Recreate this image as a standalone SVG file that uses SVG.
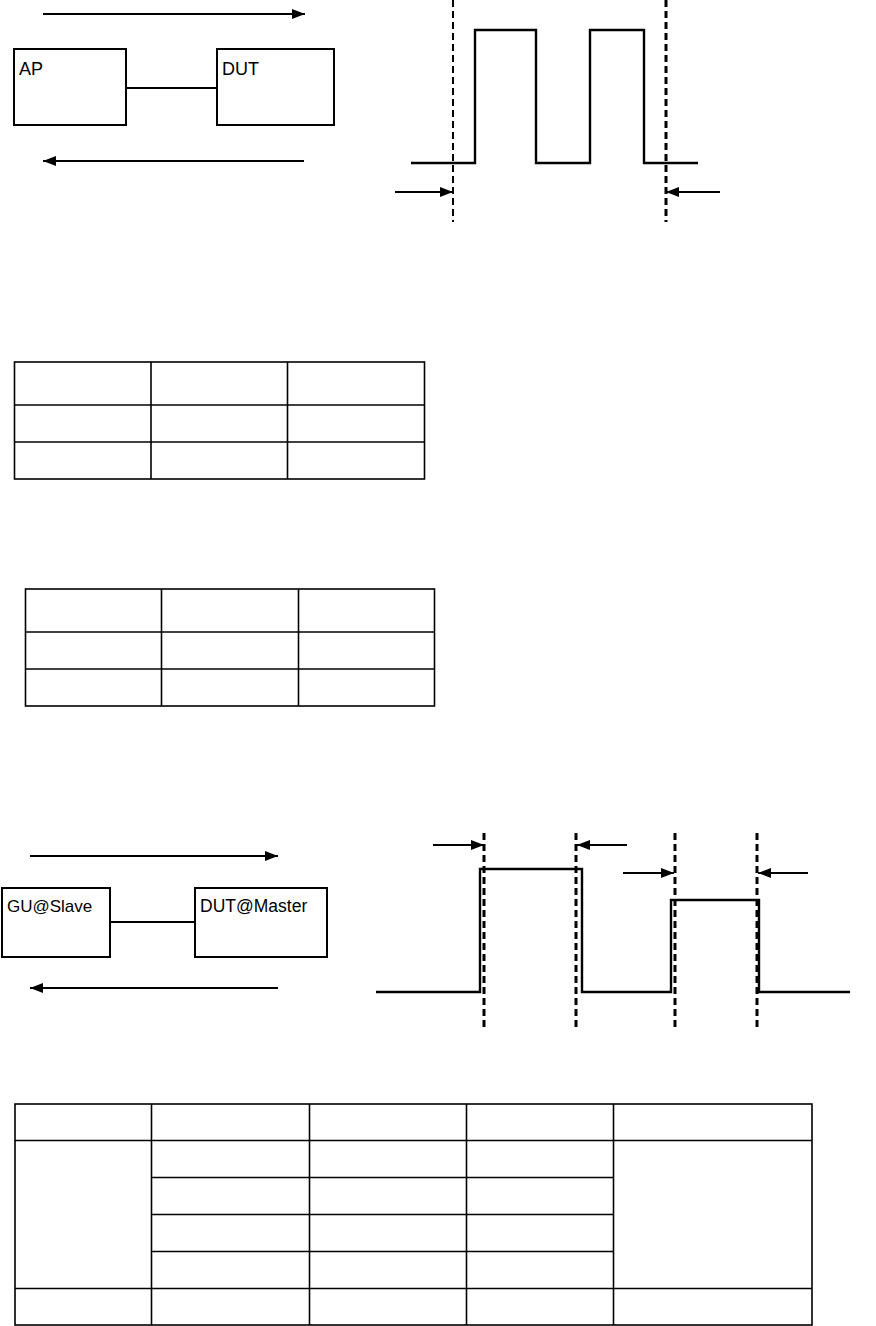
<svg xmlns="http://www.w3.org/2000/svg" width="876" height="1326" viewBox="0 0 876 1326">
<style>
.box{fill:#fff;stroke:#000;stroke-width:2}
.ln{stroke:#000;stroke-width:2;fill:none}
.wave{stroke:#000;stroke-width:2.4;fill:none;stroke-linejoin:miter}
.dash{stroke:#000;stroke-width:2;stroke-dasharray:7,4;fill:none}
.dashb{stroke:#000;stroke-width:3;stroke-dasharray:7,4;fill:none}
.tb{stroke:#000;stroke-width:1.6;fill:none}
.lbl{font-family:"Liberation Sans",Arial,sans-serif;fill:#000}
</style>
<defs>
<marker id="ah" viewBox="0 0 13 10" refX="13" refY="5" markerWidth="13" markerHeight="10" markerUnits="userSpaceOnUse" orient="auto">
<path d="M0,0 L13,5 L0,10 Z" fill="#000"/>
</marker>
</defs>
<rect width="876" height="1326" fill="#fff"/>

<g id="AP"><rect class="box" x="14" y="49" width="112" height="76"/><text class="lbl" x="19" y="75" font-size="18">AP</text></g>
<g id="DUT"><rect class="box" x="217" y="49" width="117" height="76"/><text class="lbl" x="222" y="75" font-size="18">DUT</text></g>
<g id="GU"><rect class="box" x="2" y="888" width="108" height="69"/><text class="lbl" x="7" y="912" font-size="17">GU@Slave</text></g>
<g id="DUTM"><rect class="box" x="195" y="888" width="132" height="69"/><text class="lbl" x="200" y="912" font-size="17.5">DUT@Master</text></g>

<g id="connectors">
<line class="ln" x1="126" y1="88" x2="217" y2="88"/>
<line class="ln" x1="43" y1="14" x2="305" y2="14" marker-end="url(#ah)"/>
<line class="ln" x1="304" y1="161" x2="43" y2="161" marker-end="url(#ah)"/>
<line class="ln" x1="110" y1="922" x2="195" y2="922"/>
<line class="ln" x1="30" y1="856" x2="278" y2="856" marker-end="url(#ah)"/>
<line class="ln" x1="278" y1="988" x2="30" y2="988" marker-end="url(#ah)"/>
</g>

<g id="wave1">
<polyline class="wave" points="411,163 475,163 475,30 536,30 536,163 590,163 590,30 644,30 644,163 698,163"/>
<line class="dash" x1="453" y1="0" x2="453" y2="222"/>
<line class="dashb" x1="666" y1="0" x2="666" y2="222"/>
<line class="ln" x1="395" y1="192" x2="453" y2="192" marker-end="url(#ah)"/>
<line class="ln" x1="720" y1="192" x2="666" y2="192" marker-end="url(#ah)"/>
</g>

<g id="wave2">
<polyline class="wave" points="376,992 480,992 480,869 582,869 582,992 671,992 671,900 759,900 759,992 850,992"/>
<line class="dashb" x1="484" y1="833" x2="484" y2="1031"/>
<line class="dashb" x1="576" y1="833" x2="576" y2="1031"/>
<line class="dashb" x1="675" y1="833" x2="675" y2="1031"/>
<line class="dashb" x1="757" y1="833" x2="757" y2="1031"/>
<line class="ln" x1="433" y1="845" x2="484" y2="845" marker-end="url(#ah)"/>
<line class="ln" x1="627" y1="845" x2="577" y2="845" marker-end="url(#ah)"/>
<line class="ln" x1="623" y1="873" x2="674" y2="873" marker-end="url(#ah)"/>
<line class="ln" x1="808" y1="873" x2="758" y2="873" marker-end="url(#ah)"/>
</g>

<g id="table1">
<rect class="tb" x="14.5" y="362" width="410" height="117"/>
<line class="tb" x1="151" y1="362" x2="151" y2="479"/>
<line class="tb" x1="287.5" y1="362" x2="287.5" y2="479"/>
<line class="tb" x1="14.5" y1="405" x2="424.5" y2="405"/>
<line class="tb" x1="14.5" y1="442" x2="424.5" y2="442"/>
</g>

<g id="table2">
<rect class="tb" x="25.5" y="589" width="409" height="117"/>
<line class="tb" x1="161.5" y1="589" x2="161.5" y2="706"/>
<line class="tb" x1="298.5" y1="589" x2="298.5" y2="706"/>
<line class="tb" x1="25.5" y1="632" x2="434.5" y2="632"/>
<line class="tb" x1="25.5" y1="669" x2="434.5" y2="669"/>
</g>

<g id="table3">
<rect class="tb" x="15" y="1104" width="797" height="221"/>
<line class="tb" x1="151.5" y1="1104" x2="151.5" y2="1325"/>
<line class="tb" x1="309.5" y1="1104" x2="309.5" y2="1325"/>
<line class="tb" x1="466.5" y1="1104" x2="466.5" y2="1325"/>
<line class="tb" x1="613.5" y1="1104" x2="613.5" y2="1325"/>
<line class="tb" x1="15" y1="1140.5" x2="812" y2="1140.5"/>
<line class="tb" x1="151.5" y1="1177.5" x2="613.5" y2="1177.5"/>
<line class="tb" x1="151.5" y1="1214.5" x2="613.5" y2="1214.5"/>
<line class="tb" x1="151.5" y1="1251.5" x2="613.5" y2="1251.5"/>
<line class="tb" x1="15" y1="1288.5" x2="812" y2="1288.5"/>
</g>
</svg>
